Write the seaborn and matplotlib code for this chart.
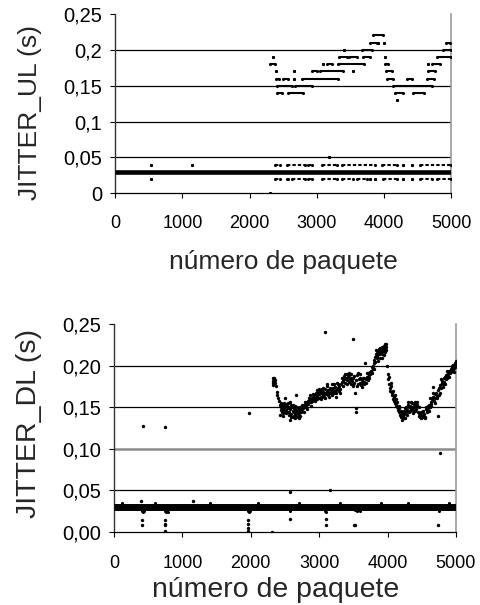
import numpy as np
import pandas as pd
import matplotlib
matplotlib.use("Agg")
import matplotlib.pyplot as plt
import seaborn as sns

sns.set_theme(style="white")
plt.rcParams['font.family'] = ['Liberation Sans', 'DejaVu Sans']

# ---------------- data : JITTER_UL (quantised to 0.01 s) ----------------
# runs of consecutive packets that share the same jitter value
ul_run_start = [4192, 2404, 2578, 4168, 4441, 2404, 2678, 4133,
                2389, 2504, 2668, 2777, 4043, 4341, 4639,
                2389, 2663, 2926, 3050, 3537, 4033, 4664,
                2305, 3090, 3159, 3323, 4018, 4664, 4714,
                2355, 3338, 3487, 3686, 4018, 4788,
                3408, 3671, 4880,
                3795, 3919, 4004, 4927,
                3835]
ul_run_end = [4192, 2479, 2802, 4292, 4590, 2628, 2926, 4714,
              2439, 2578, 2668, 3323, 4143, 4416, 4739,
              2389, 2663, 3000, 3398, 3537, 4118, 4764,
              2380, 3090, 3224, 3706, 4068, 4664, 4838,
              2355, 3457, 3597, 3786, 4018, 5000,
              3408, 3820, 5000,
              3894, 3919, 4004, 4987,
              3994]
ul_run_value = [0.13, 0.14, 0.14, 0.14, 0.14, 0.15, 0.15, 0.15,
                0.16, 0.16, 0.16, 0.16, 0.16, 0.16, 0.16,
                0.17, 0.17, 0.17, 0.17, 0.17, 0.17, 0.17,
                0.18, 0.18, 0.18, 0.18, 0.18, 0.18, 0.18,
                0.19, 0.19, 0.19, 0.19, 0.19, 0.19,
                0.20, 0.20, 0.20,
                0.21, 0.21, 0.21, 0.21,
                0.22]

ul_low_start = [527, 1143, 2380, 2553, 2876, 3075, 3373, 3969, 4292, 4416, 4540,
                527, 2380, 2553, 2628, 2876, 3075, 3373, 3597, 3795, 3870, 3994,
                4292, 4416, 4540, 4789, 3190, 2310]
ul_low_end = [527, 1143, 2454, 2827, 2926, 3299, 3870, 4193, 4292, 4416, 5000,
              527, 2454, 2578, 2827, 2926, 3299, 3547, 3746, 3795, 3870, 4193,
              4292, 4416, 4714, 5000, 3190, 2310]
ul_low_value = [0.04] * 11 + [0.02] * 15 + [0.05, 0.0]

ul_base_value = 0.03
ul_base_range = [0, 5000]

# ---------------- data : JITTER_DL ----------------
dl_band_x = [2320, 2325, 2330, 2335, 2340, 2348, 2355, 2368, 2378, 2390, 2402, 2415, 2426, 2435,
             2440, 2450, 2455, 2462, 2470, 2478, 2485, 2492, 2500, 2505, 2512, 2520, 2530, 2538,
             2545, 2552, 2560, 2566, 2573, 2580, 2588, 2595, 2603, 2610, 2618, 2625, 2632, 2640,
             2648, 2655, 2660, 2668, 2675, 2683, 2690, 2698, 2705, 2712, 2720, 2730, 2740, 2750,
             2760, 2770, 2780, 2790, 2800, 2810, 2820, 2830, 2840, 2850, 2860, 2870, 2880, 2890,
             2900, 2910, 2920, 2930, 2940, 2950, 2962, 2970, 2980, 2990, 3000, 3010, 3020, 3030,
             3040, 3050, 3060, 3070, 3080, 3090, 3100, 3108, 3115, 3125, 3135, 3145, 3155, 3165,
             3175, 3182, 3190, 3200, 3210, 3220, 3230, 3240, 3250, 3265, 3275, 3285, 3295, 3305,
             3315, 3328, 3340, 3350, 3360, 3370, 3380, 3390, 3400, 3410, 3420, 3430, 3440, 3450,
             3460, 3470, 3480, 3490, 3500, 3510, 3523, 3533, 3535, 3545, 3555, 3565, 3572, 3580,
             3590, 3600, 3610, 3620, 3630, 3640, 3650, 3660, 3670, 3680, 3690, 3700, 3710, 3720,
             3730, 3740, 3750, 3760, 3770, 3780, 3790, 3800, 3808, 3815, 3822, 3830, 3838, 3845,
             3852, 3860, 3868, 3875, 3882, 3890, 3898, 3905, 3912, 3920, 3928, 3935, 3942, 3950,
             3958, 3965, 3972, 3980, 3988, 4000, 4008, 4020, 4030, 4040, 4050, 4060, 4070, 4080,
             4090, 4100, 4110, 4120, 4130, 4140, 4150, 4160, 4170, 4180, 4190, 4200, 4206, 4215,
             4225, 4235, 4245, 4255, 4265, 4275, 4285, 4295, 4303, 4312, 4322, 4332, 4342, 4352,
             4362, 4372, 4382, 4392, 4402, 4412, 4422, 4432, 4442, 4452, 4462, 4472, 4482, 4492,
             4502, 4512, 4522, 4532, 4545, 4555, 4565, 4575, 4585, 4595, 4605, 4615, 4620, 4630,
             4640, 4650, 4660, 4670, 4680, 4690, 4700, 4710, 4720, 4730, 4742, 4750, 4760, 4770,
             4780, 4790, 4800, 4810, 4820, 4830, 4840, 4850, 4860, 4870, 4880, 4890, 4900, 4910,
             4920, 4930, 4940, 4950, 4960, 4970, 4980, 4990, 5000]
dl_band_y = [.182, .185, .180, .184, .181, .179, .183, .176, .169, .165, .162, .158, .153, .147,
             .151, .145, .149, .153, .143, .148, .152, .146, .161, .150, .154, .147, .152, .149,
             .155, .151, .145, .157, .135, .148, .153, .142, .150, .146, .139, .144, .149, .137,
             .142, .147, .165, .140, .145, .138, .143, .148, .141, .146, .150, .144, .148, .146,
             .151, .149, .153, .150, .155, .152, .157, .154, .158, .156, .165, .159, .157, .161,
             .158, .163, .160, .165, .162, .167, .171, .164, .168, .162, .166, .170, .163, .167,
             .172, .165, .169, .163, .168, .172, .166, .176, .170, .165, .171, .168, .173, .167,
             .171, .178, .169, .174, .170, .167, .175, .171, .168, .180, .173, .170, .176, .172,
             .178, .181, .186, .182, .188, .184, .179, .185, .190, .183, .187, .181, .189, .184,
             .178, .186, .182, .177, .185, .180, .167, .149, .145, .183, .189, .178, .191, .184,
             .180, .186, .177, .183, .179, .185, .181, .178, .204, .184, .180, .187, .183, .191,
             .189, .193, .190, .194, .191, .196, .200, .203, .207, .211, .205, .214, .209, .216,
             .212, .218, .214, .220, .216, .222, .217, .219, .223, .215, .221, .218, .224, .220,
             .226, .217, .223, .227, .200, .190, .184, .178, .174, .170, .176, .168, .165, .160,
             .163, .158, .155, .160, .153, .150, .147, .144, .149, .141, .146, .138, .135, .143,
             .140, .146, .142, .149, .145, .151, .147, .153, .157, .150, .146, .152, .148, .155,
             .151, .147, .154, .150, .156, .152, .148, .153, .145, .140, .143, .138, .141, .137,
             .144, .140, .138, .142, .139, .148, .151, .147, .152, .149, .153, .150, .162, .157,
             .154, .160, .175, .163, .158, .166, .161, .168, .164, .171, .140, .174, .168, .177,
             .173, .179, .182, .178, .185, .181, .187, .184, .189, .186, .192, .188, .194, .191,
             .196, .193, .199, .195, .201, .197, .203, .199, .202]

# further scattered points of the same band (spread of the cloud)
dl_spread_x = [2330, 2345, 2430, 2448, 2465, 2490, 2515, 2535, 2555, 2590, 2615, 2635, 2650,
               2680, 2700, 2725, 2745, 2775, 2795, 2815, 2845, 2875, 2905, 2935, 2965, 2995,
               3025, 3055, 3085, 3120, 3150, 3180, 3215, 3245, 3280, 3310, 3345, 3375, 3405,
               3435, 3465, 3495, 3515, 3560, 3595, 3625, 3655, 3705, 3735, 3765, 3795, 3825,
               3855, 3885, 3915, 3945, 3975, 4015, 4045, 4075, 4105, 4135, 4165, 4195, 4220,
               4250, 4280, 4310, 4340, 4370, 4400, 4430, 4460, 4490, 4520, 4540, 4570, 4600,
               4635, 4665, 4695, 4725, 4755, 4785, 4815, 4845, 4875, 4905, 4935, 4965, 4995]
dl_spread_y = [.177, .186, .141, .155, .140, .155, .143, .144, .141, .138, .153, .140, .152,
               .150, .137, .140, .153, .145, .156, .148, .161, .152, .166, .158, .160, .172,
               .160, .174, .162, .178, .163, .165, .178, .163, .178, .167, .176, .190, .178,
               .192, .190, .176, .188, .176, .190, .175, .186, .192, .186, .199, .196, .219,
               .206, .209, .210, .213, .219, .187, .180, .170, .165, .157, .152, .140, .137,
               .137, .141, .144, .156, .143, .146, .157, .150, .145, .146, .137, .144, .146,
               .152, .167, .155, .161, .165, .184, .175, .178, .194, .187, .200, .193, .206]

dl_out_x = [430, 750, 1970, 3090, 3500, 4770, 2570, 3160, 400, 1150,
            414, 414, 746, 746, 746, 746, 1964, 1964, 1964, 1964, 2306, 2573,
            3100, 3100, 3505, 3530, 4742]
dl_out_y = [0.128, 0.126, 0.143, 0.241, 0.232, 0.095, 0.048, 0.050, 0.037, 0.037,
            0.015, 0.008, 0.015, 0.010, 0.008, 0.001, 0.015, 0.010, 0.005, 0.001, 0.0, 0.016,
            0.016, 0.008, 0.008, 0.008, 0.008]

dl_edge_x = [410, 425, 440, 740, 755, 770, 785, 1960, 1975, 1990, 2570, 3090, 3105,
             3530, 3550, 3570, 3590, 4750, 120, 600, 1400, 2100, 2700, 3300, 3900, 4300, 4900]
dl_edge_y = [0.025, 0.024, 0.025, 0.025, 0.024, 0.025, 0.024, 0.025, 0.024, 0.025, 0.025, 0.025, 0.024,
             0.026, 0.025, 0.026, 0.025, 0.025, 0.0345, 0.0345, 0.0345, 0.0345, 0.0345, 0.0345,
             0.0345, 0.0345, 0.0345]

dl_base_value = 0.030
dl_base_range = [0, 5000]

x_ticks = [0, 1000, 2000, 3000, 4000, 5000]
x_ticklabels = ["0", "1000", "2000", "3000", "4000", "5000"]
y_ticks = [0, 0.05, 0.10, 0.15, 0.20, 0.25]
ul_yticklabels = ["0", "0,05", "0,1", "0,15", "0,2", "0,25"]
dl_yticklabels = ["0,00", "0,05", "0,10", "0,15", "0,20", "0,25"]
grid_levels = [0.05, 0.10, 0.15, 0.20]

# ---------------- figure ----------------
fig = plt.figure(figsize=(4.81, 6.05), dpi=100)
ax1 = fig.add_axes([0.2397, 0.6805, 0.698, 0.2964])
ax2 = fig.add_axes([0.237, 0.1207, 0.711, 0.343])

for ax in (ax1, ax2):
    ax.set_xticks(x_ticks)
    ax.set_xticklabels(x_ticklabels)
    ax.set_yticks(y_ticks)
    ax.spines['top'].set_visible(False)
    ax.spines['right'].set_color('#9a9a9a')
    ax.spines['right'].set_linewidth(1.2)
    ax.spines['left'].set_color('#333333')
    ax.spines['left'].set_linewidth(1.0)
    ax.spines['bottom'].set_color('black')
    ax.spines['bottom'].set_linewidth(0.9)
    ax.tick_params(axis='both', direction='out', length=3.8, width=0.8,
                   colors='black', left=True, bottom=True)
    ax.tick_params(axis='x', labelsize=13)
    ax.tick_params(axis='y', labelsize=14.5, pad=5.5)
    ax.set_facecolor('white')

ax1.set_yticklabels(ul_yticklabels)
ax2.set_yticklabels(dl_yticklabels)
ax1.tick_params(axis='x', pad=12)
ax2.tick_params(axis='x', pad=13)

for g in grid_levels:
    ax1.axhline(g, color='black', lw=0.9, zorder=1)
for g in grid_levels:
    if abs(g - 0.10) < 1e-9:
        ax2.axhline(g, color='#8c8c8c', lw=1.8, zorder=1)
    else:
        ax2.axhline(g, color='black', lw=0.9, zorder=1)

# UL chart
ax1.hlines(ul_base_value, ul_base_range[0], ul_base_range[1], color='black', lw=3.3, zorder=3)
ax1.hlines(ul_run_value, ul_run_start, ul_run_end, color='black', lw=1.5, zorder=3)
sns.scatterplot(x=ul_run_start + ul_run_end, y=ul_run_value + ul_run_value, ax=ax1,
                color='black', s=5, linewidth=0, zorder=4)
ax1.hlines(ul_low_value, ul_low_start, ul_low_end, color='black', lw=1.5,
           linestyles=[(0, (1.6, 1.0))], zorder=3)
sns.scatterplot(x=ul_low_start + ul_low_end, y=ul_low_value + ul_low_value, ax=ax1,
                color='black', s=5, linewidth=0, zorder=4)

# DL chart
ax2.hlines(dl_base_value, dl_base_range[0], dl_base_range[1], color='black', lw=5.0, zorder=3)
sns.scatterplot(x=dl_edge_x, y=dl_edge_y, ax=ax2, color='black', s=5, linewidth=0, zorder=4)
sns.scatterplot(x=dl_band_x, y=dl_band_y, ax=ax2, color='black', s=6, linewidth=0, zorder=4)
sns.scatterplot(x=dl_spread_x, y=dl_spread_y, ax=ax2, color='black', s=6, linewidth=0, zorder=4)
sns.scatterplot(x=dl_out_x, y=dl_out_y, ax=ax2, color='black', s=6, linewidth=0, zorder=4)

for ax in (ax1, ax2):
    ax.set_xlim(0, 5000)
    ax.set_ylim(0, 0.25)

ax1.set_ylabel("JITTER_UL (s)", fontsize=19)
ax1.set_xlabel("número de paquete", fontsize=19)
ax2.set_ylabel("JITTER_DL (s)", fontsize=20.5)
ax2.set_xlabel("número de paquete", fontsize=20.5)
ax1.yaxis.set_label_coords(-0.219, 0.45)
ax2.yaxis.set_label_coords(-0.211, 0.524)
ax1.xaxis.set_label_coords(0.5, -0.315)
ax2.xaxis.set_label_coords(0.473, -0.215)

fig.savefig("out.png", dpi=100, facecolor='white')
